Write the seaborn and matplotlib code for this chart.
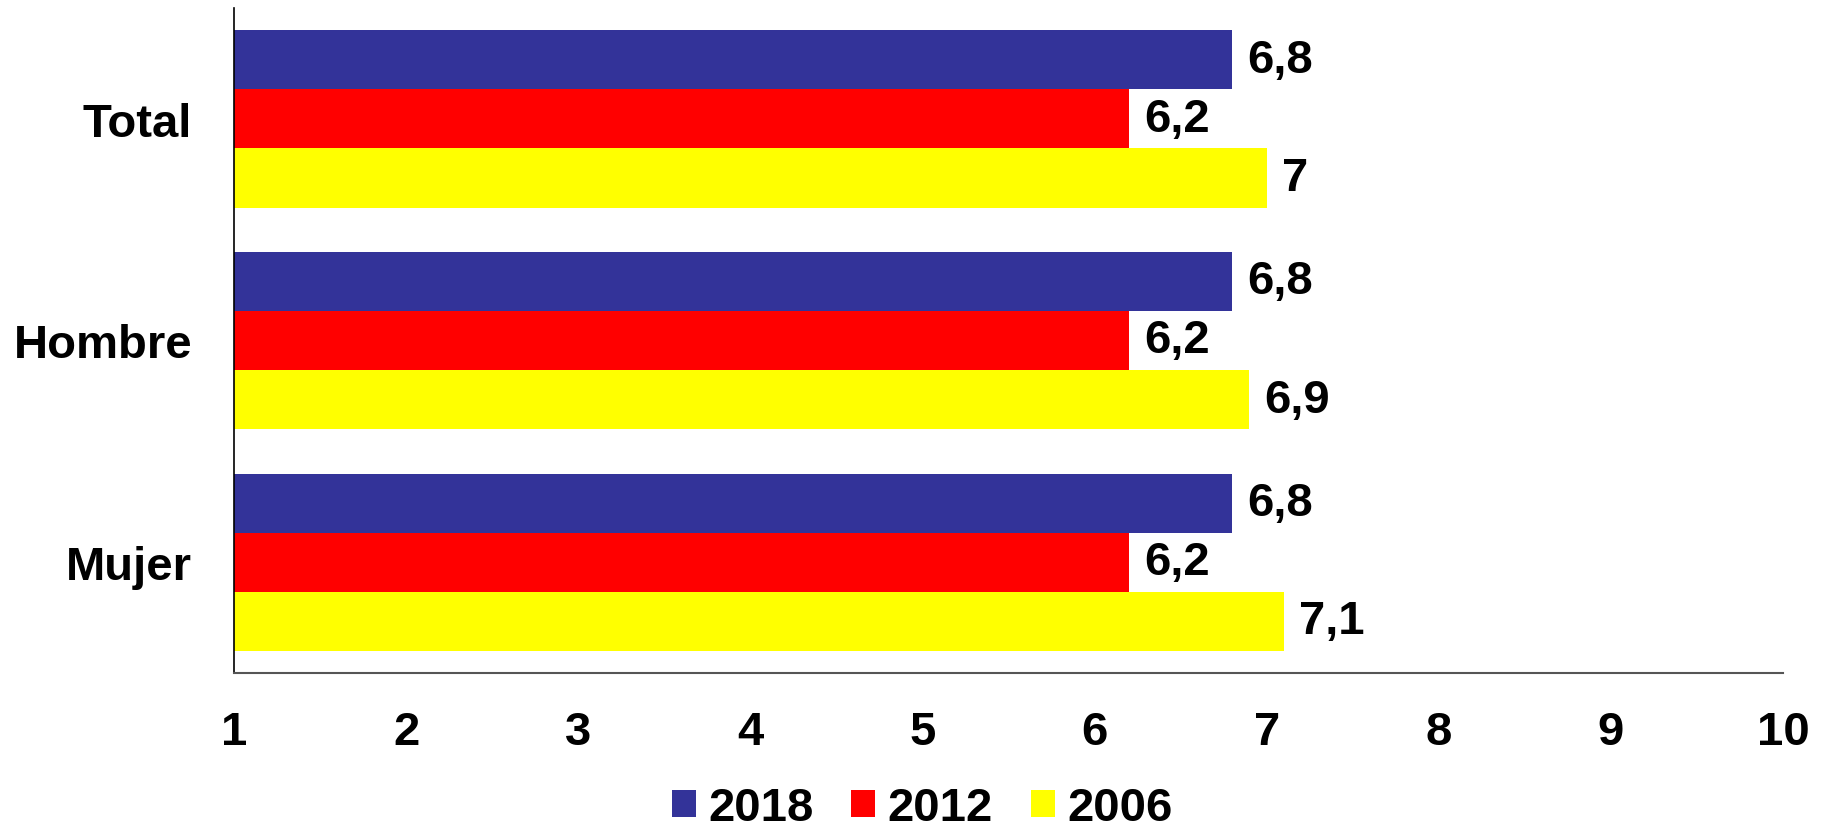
import matplotlib
matplotlib.use("Agg")
import matplotlib.pyplot as plt
from matplotlib.patches import Patch
import seaborn as sns
import pandas as pd

categories = ["Total", "Hombre", "Mujer"]
years = ["2018", "2012", "2006"]
values_2018 = [6.8, 6.8, 6.8]
values_2012 = [6.2, 6.2, 6.2]
values_2006 = [7.0, 6.9, 7.1]
colors = ["#333399", "#FF0000", "#FFFF00"]
x_ticks = [1, 2, 3, 4, 5, 6, 7, 8, 9, 10]

rows = []
for yr, vals in zip(years, [values_2018, values_2012, values_2006]):
    for c, v in zip(categories, vals):
        rows.append({"cat": c, "year": yr, "value": v})
df = pd.DataFrame(rows)

sns.set_theme(style="white")
plt.rcParams['font.family'] = ['Liberation Sans', 'DejaVu Sans']
plt.rcParams['font.weight'] = 'bold'
plt.rcParams['text.color'] = 'black'
plt.rcParams['xtick.color'] = 'black'
plt.rcParams['ytick.color'] = 'black'

fig = plt.figure(figsize=(18.25, 8.29), dpi=100)
ax = fig.add_axes([234/1825, 1-674/829, (1783-234)/1825, (674-9)/829])

sns.barplot(data=df, y="cat", x="value", hue="year", order=categories,
            hue_order=years, palette=colors, orient="h", width=0.8,
            linewidth=0, saturation=1, ax=ax, legend=False)

ax.set_xlim(1, 10)
ax.set_ylim(2.5, -0.5)
ax.set_xticks(x_ticks)
ax.set_xticklabels([str(t) for t in x_ticks])
ax.set_xlabel("")
ax.set_ylabel("")
ax.tick_params(axis="x", length=0, pad=27, labelsize=34, labelcolor="black")
ax.tick_params(axis="y", length=0, pad=30, labelsize=34, labelcolor="black")
for lbl in ax.get_xticklabels() + ax.get_yticklabels():
    lbl.set_fontweight("bold")

for s in ["top", "right"]:
    ax.spines[s].set_visible(False)
ax.spines["left"].set_color("black")
ax.spines["left"].set_linewidth(1.2)
ax.spines["bottom"].set_color("#555555")
ax.spines["bottom"].set_linewidth(1.5)

for cont in ax.containers:
    labels = [f"{b.get_width():g}".replace(".", ",") for b in cont]
    ax.bar_label(cont, labels=labels, padding=11, fontsize=34,
                 fontweight="bold", color="black")

handles = [Patch(facecolor=c, edgecolor="none") for c in colors]
fig.legend(handles, years, loc="center", bbox_to_anchor=(922/1825, 1-809/829),
           ncol=3, frameon=False, handlelength=0.51, handleheight=0.51,
           handletextpad=0.26, columnspacing=0.8, borderpad=0, labelcolor="black",
           prop={"weight": "bold", "size": 34})

fig.savefig("out.png", dpi=100)
